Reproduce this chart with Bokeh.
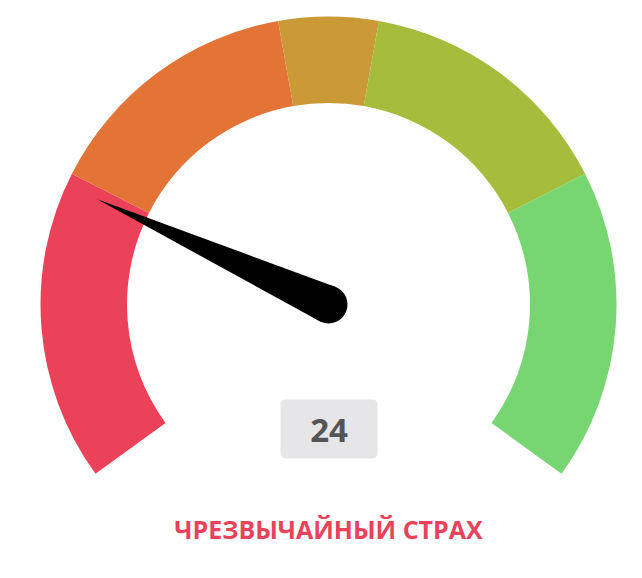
import numpy as np
from bokeh.plotting import figure
from bokeh.core.properties import value
from bokeh.embed import file_html
from bokeh.resources import INLINE

# ---- data ----
bounds = [0, 25, 46, 54, 75, 100]
colors = ["#EC4259", "#E37436", "#C99A36", "#A6BC3D", "#77D672"]
index_value = 24
value_label = "24"
status_label = "ЧРЕЗВЫЧАЙНЫЙ СТРАХ"

# ---- geometry (screen px) ----
W, H = 626, 562
CX, CY = 328, 304          # gauge centre in frame px (from top-left)
R_OUT, R_IN = 288, 201.5
START, SWEEP = np.deg2rad(216), np.deg2rad(252)

def ang(v):
    return START - SWEEP * v / 100.0

p = figure(width=W, height=H, output_backend="svg", toolbar_location=None,
           x_range=(-CX, W - CX), y_range=(-(H - CY), CY),
           min_border=0, outline_line_color=None)
p.axis.visible = False
p.grid.visible = False
p.background_fill_color = "white"
p.border_fill_color = "white"

starts = [ang(b) for b in bounds[1:]]
ends = [ang(b) for b in bounds[:-1]]
p.annular_wedge(x=0, y=0, inner_radius=R_IN, outer_radius=R_OUT,
                start_angle=starts, end_angle=ends, color=colors,
                line_color=None, inner_radius_units="data", outer_radius_units="data")

# needle
a = ang(index_value)
L, r = 254, 19
tip = (L * np.cos(a), L * np.sin(a))
px, py = -np.sin(a), np.cos(a)
p.patch([tip[0], r * px, -r * px], [tip[1], r * py, -r * py], color="black", line_color=None)
p.circle(x=0, y=0, radius=r, color="black", line_color=None)

# value box (rounded rect)
bx, by, bw, bh, br = 0.5, -124.5, 97, 59, 5
t = np.linspace(0, np.pi / 2, 8)
xs, ys = [], []
for (cx, cy, a0) in [(bx + bw/2 - br, by + bh/2 - br, 0), (bx - bw/2 + br, by + bh/2 - br, np.pi/2),
                     (bx - bw/2 + br, by - bh/2 + br, np.pi), (bx + bw/2 - br, by - bh/2 + br, 3*np.pi/2)]:
    xs += list(cx + br * np.cos(t + a0))
    ys += list(cy + br * np.sin(t + a0))
p.patch(xs, ys, color="#E6E6E8", line_color=None)

p.text(x=[0.5], y=[-125.7], text=[value_label], text_font=value("Open Sans"),
       text_font_size="33px", text_font_style="bold", text_color="#555555",
       text_align="center", text_baseline="alphabetic")
p.text(x=[0], y=[-224.5], text=[status_label], text_font=value("Open Sans"),
       text_font_size="25px", text_font_style="bold", text_color="#E8435A",
       text_align="center", text_baseline="alphabetic")

open("out.html", "w").write(file_html(p, INLINE))
